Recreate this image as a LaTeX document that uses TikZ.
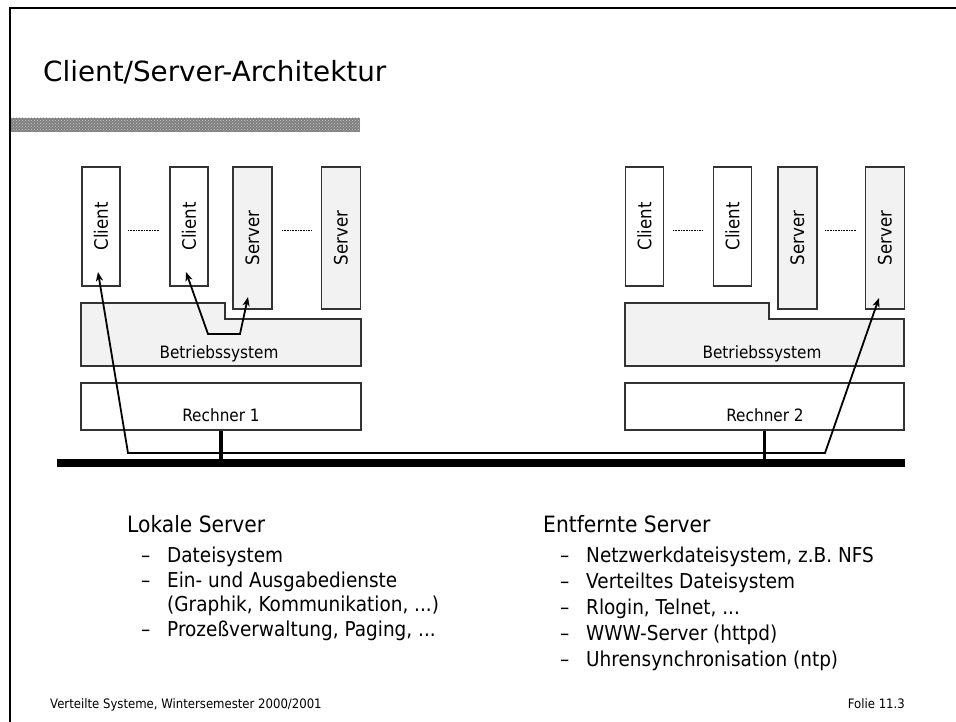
\documentclass[tikz,border=0pt]{standalone}
\usepackage{fontspec}
\setmainfont{DejaVu Sans}
\newfontfamily\condfont{DejaVu Sans}[FakeStretch=0.9]
\usetikzlibrary{arrows.meta,patterns}
\definecolor{boxgray}{HTML}{F2F2F2}
\definecolor{edge}{HTML}{333333}
\begin{document}
\begin{tikzpicture}[x=1pt,y=-1pt,
  box/.style={draw=edge, line width=1.1pt},
  clientbox/.style={box, fill=white, rotate=90, minimum width=119pt, minimum height=38pt, inner sep=0pt, font=\condfont\fontsize{18.5}{20}\selectfont},
  serverbox/.style={clientbox, fill=boxgray, minimum width=142pt, minimum height=39pt},
  rbox/.style={box, fill=white, minimum width=280pt, minimum height=47pt, inner sep=0pt},
  lbl/.style={font=\condfont\fontsize{17}{19}\selectfont, anchor=base, inner sep=0pt},
  dotline/.style={line width=0.6pt, dash pattern=on 0.8pt off 0.8pt},
  conn/.style={line width=1.8pt, {Stealth[length=9pt,width=7pt,inset=2.5pt]}-{Stealth[length=9pt,width=7pt,inset=2.5pt]}},
  head/.style={font=\condfont\fontsize{22.5}{26}\selectfont, anchor=base west, inner sep=0pt},
  item/.style={font=\condfont\fontsize{20.5}{24}\selectfont, anchor=base west, inner sep=0pt},
  foot/.style={font=\condfont\fontsize{13}{15}\selectfont, inner sep=0pt}
]
\useasboundingbox (0,0) rectangle (956,722);
% frame
\draw[line width=2pt] (10,722) -- (10,8) -- (956,8);
% title
\node[anchor=base west, inner sep=0pt, font=\fontsize{27.8}{32}\selectfont] (title) at (43,82) {Client/Server-Architektur};
\fill[black!50] (11,118) rectangle (360,132);
\fill[pattern=crosshatch dots, pattern color=black!22] (11,118) rectangle (360,132);

% ---------- Rechner 1 ----------
\draw[box, fill=boxgray] (81,303) -- (225,303) -- (225,319) -- (361,319) -- (361,366) -- (81,366) -- cycle;
\node[lbl] (bs1) at (219,358) {Betriebssystem};
\node[rbox] (r1) at (221,406.5) {};
\node[lbl] (r1t) at (221,421.5) {Rechner 1};
\node[clientbox] (c1) at (101,226.5) {Client};
\node[clientbox] (c2) at (189,226.5) {Client};
\node[serverbox] (s1) at (252.5,238) {Server};
\node[serverbox] (s2) at (341,238) {Server};
\draw[dotline] (128,230) -- (159,230);
\draw[dotline] (282,230) -- (312,230);

% ---------- Rechner 2 ----------
\draw[box, fill=boxgray] (625,303) -- (769,303) -- (769,319) -- (904,319) -- (904,366) -- (625,366) -- cycle;
\node[lbl] (bs2) at (762,358) {Betriebssystem};
\node[rbox, minimum width=279pt] (r2) at (764.5,406.5) {};
\node[lbl] (r2t) at (765,421.5) {Rechner 2};
\node[clientbox] (c3) at (644.5,226.5) {Client};
\node[clientbox] (c4) at (732.5,226.5) {Client};
\node[serverbox] (s3) at (797.5,238) {Server};
\node[serverbox] (s4) at (885,238) {Server};
\draw[dotline] (673,230) -- (703,230);
\draw[dotline] (825,230) -- (856,230);

% ---------- network ----------
\coordinate (busL) at (57,462.5);
\coordinate (busR) at (905,462.5);
\draw[line width=8pt] (busL) -- (busR);
\draw[line width=3.5pt] (r1.south) -- (r1.south |- busL);
\draw[line width=3.5pt] (r2.south) -- (r2.south |- busL);

% ---------- connections ----------
\coordinate (t1) at (98,272);
\coordinate (p1) at (128,453);
\coordinate (p2) at (825,453);
\coordinate (t2) at (879,298);
\draw[conn] (t1) -- (p1) -- (p2) -- (t2);
\coordinate (t3) at (186,272);
\coordinate (q1) at (208,334);
\coordinate (q2) at (240,334);
\coordinate (t4) at (248,297);
\draw[conn] (t3) -- (q1) -- (q2) -- (t4);

% ---------- lists ----------
\node[head] (h1) at (127,532) {Lokale Server};
\node[item] at (141,562) {–};
\node[item] at (167,562) {Dateisystem};
\node[item] at (141,587) {–};
\node[item] at (167,587) {Ein- und Ausgabedienste};
\node[item] at (167,611) {(Graphik, Kommunikation, ...)};
\node[item] at (141,636) {–};
\node[item] at (167,636) {Prozeßverwaltung, Paging, ...};

\node[head] (h2) at (543,532) {Entfernte Server};
\node[item] at (560,562) {–};
\node[item] at (586,562) {Netzwerkdateisystem, z.B. NFS};
\node[item] at (560,588) {–};
\node[item] at (586,588) {Verteiltes Dateisystem};
\node[item] at (560,614) {–};
\node[item] at (586,614) {Rlogin, Telnet, ...};
\node[item] at (560,640) {–};
\node[item] at (586,640) {WWW-Server (httpd)};
\node[item] at (560,666) {–};
\node[item] at (586,666) {Uhrensynchronisation (ntp)};

% ---------- footer ----------
\node[foot, anchor=base west] (f1) at (50,708) {Verteilte Systeme, Wintersemester 2000/2001};
\node[foot, anchor=base east] (f2) at (905,708) {Folie 11.3};
\end{tikzpicture}
\end{document}
